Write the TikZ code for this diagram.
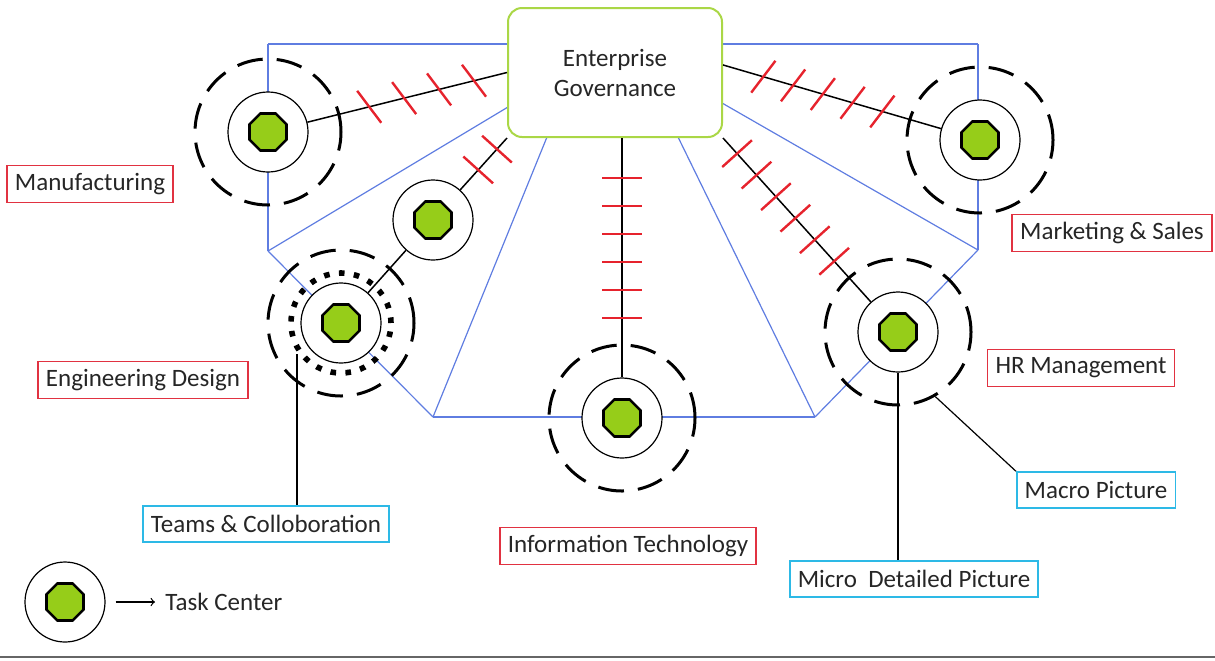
\documentclass[tikz,border=0pt]{standalone}
\usepackage{fontspec}
\setmainfont{Carlito}
\usetikzlibrary{shapes.geometric,decorations.markings,backgrounds}

\definecolor{dotgreen}{RGB}{150,205,25}
\definecolor{boxgreen}{RGB}{170,215,70}
\definecolor{lineblue}{RGB}{95,125,225}
\definecolor{tickred}{RGB}{230,35,45}
\definecolor{labred}{RGB}{225,50,65}
\definecolor{labcyan}{RGB}{45,185,230}

\tikzset{
  ring/.style={circle,draw,fill=white,line width=0.6pt,minimum size=40pt,inner sep=0pt},
  greendot/.style={regular polygon,regular polygon sides=8,draw,line width=1.3pt,fill=dotgreen,minimum size=20pt,inner sep=0pt},
  outring/.style={circle,draw,line width=1.5pt,dash pattern=on 13pt off 7pt,minimum size=73pt,inner sep=0pt},
  dotring/.style={circle,draw,line width=2.8pt,dash pattern=on 2.8pt off 4.7pt,minimum size=50pt,inner sep=0pt},
  redlab/.style={draw=labred,line width=0.8pt,minimum height=18.5pt,inner xsep=4pt},
  bluelab/.style={draw=labcyan,line width=0.8pt,minimum height=18pt,inner xsep=4pt},
  conn/.style={line width=0.75pt},
  hatch/.style n args={4}{postaction={decorate,decoration={markings,
    mark=between positions #1 and #2 step #3 with {\draw[tickred,line width=1.2pt,rotate=#4] (0pt,-10pt) -- (0pt,10pt);}}}}
}

\begin{document}
\begin{tikzpicture}
  [x=0.5pt,y=-0.5pt,every node/.style={font=\fontsize{12.5}{15}\selectfont,text=black!85}]
  \useasboundingbox (0,0) rectangle (1215,660);

  \node[draw=boxgreen,line width=1pt,rounded corners=7pt,fill=white,minimum width=107pt,minimum height=64.5pt,align=center] (gov) at (615,72.5) {Enterprise\\Governance};

% task centres
  \foreach \n/\x/\y in {mfg/268/132,eng2/433/220,eng/341/323,it/622/418,hr/898/332,mkt/980/140,leg/65/602}
  {
    \node[ring] (\n) at (\x,\y) {};
    \node[greendot] (g\n) at (\x,\y) {};
  }
  \foreach \n in {mfg,eng,it,hr,mkt}
    \node[outring] (o\n) at (\n) {};
  \node[dotring] (seng) at (eng) {};

% labels
  \node[redlab] (mfgl) at (90,184) {Manufacturing};
  \node[redlab] (engl) at (143,380) {Engineering Design};
  \node[bluelab] (teams) at (266,524) {Teams \& Colloboration};
  \node[redlab] (itl) at (628,546) {Information Technology};
  \node[bluelab] (micro) at (914,579) {Micro\ \ Detailed Picture};
  \node[bluelab] (macro) at (1096,490) {Macro Picture};
  \node[redlab] (hrl) at (1081,368) {HR Management};
  \node[redlab] (mktl) at (1112,233) {Marketing \& Sales};
  \node[anchor=west,inner sep=0pt] (legt) at (165,602) {Task Center};

  \begin{scope}[on background layer]
    \coordinate (p1) at (268,44);
    \coordinate (p2) at (978,44);
    \coordinate (p3) at (268,251);
    \coordinate (p4) at (978,250);
    \coordinate (p5) at (433,417);
    \coordinate (p6) at (815,417);
    \coordinate (b1) at (508,107);
    \coordinate (b2) at (722,103);
    \coordinate (b3) at (547,137);
    \coordinate (b4) at (678,137);
    \foreach \from/\to in {p1/p2,p1/p3,p2/p4,p3/b1,p4/b2,p3/p5,p5/p6,p6/p4,p5/b3,p6/b4}
      \draw[lineblue,line width=0.6pt] (\from) -- (\to);
  \end{scope}

  \draw[conn,hatch={17pt}{73pt}{18pt}{23}] (gov.west) -- (mfg);
  \draw[conn,hatch={21pt}{84pt}{15.5pt}{-21}] (gov.4) -- (mkt);
  \draw[conn,hatch={10.5pt}{84pt}{14.5pt}{0}] (gov.south east) -- (hr);
  \draw[conn,hatch={7.5pt}{22pt}{14pt}{0}] (gov.south west) -- (eng2);
  \draw[conn,hatch={20pt}{91pt}{14pt}{0}] (it |- gov.south) -- (it);

  \draw[conn] (eng2) -- (eng);
  \coordinate (tc) at (297,354);
  \draw[conn] (tc) -- (tc |- teams.north);
  \draw[conn] (hr) -- (hr |- micro.north);
  \draw[line width=0.6pt] (ohr.-60) -- (macro.north west);

  \draw[->,line width=0.6pt] ([xshift=5pt]leg.east) -- ([xshift=-5pt]legt.west);
  \draw[black!60,line width=1pt] (0,657) -- (1215,657);
\end{tikzpicture}
\end{document}
